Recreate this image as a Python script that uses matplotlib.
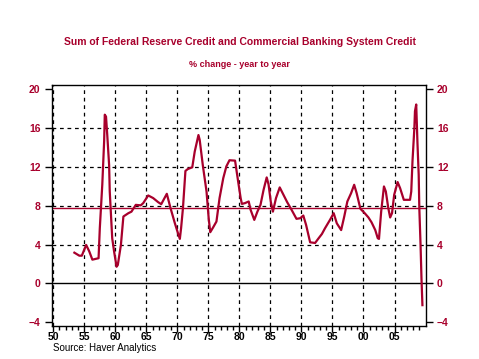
import numpy as np
import matplotlib.pyplot as plt

plt.rcParams['font.family'] = ['Liberation Sans', 'DejaVu Sans']

# readings: (decimal year, % change y/y)
years = [1953.4, 1954.2, 1954.6, 1955.3, 1955.8, 1956.3, 1957.3, 1957.5, 1957.9, 1958.2,
         1958.3, 1958.5, 1958.7, 1959.0, 1959.1, 1959.5, 1959.8, 1960.2, 1960.4, 1960.9,
         1961.3, 1962.1, 1962.6, 1963.3, 1964.1, 1964.5, 1965.3, 1966.1, 1966.9, 1967.4,
         1968.3, 1968.9, 1969.6, 1970.1, 1970.4, 1970.6, 1970.9, 1971.3, 1971.7, 1972.4,
         1972.8, 1973.4, 1973.6, 1974.1, 1974.7, 1975.05, 1975.3, 1975.75, 1976.3, 1976.8,
         1977.4, 1977.9, 1978.4, 1979.3, 1979.8, 1980.2, 1980.4, 1980.9, 1981.5, 1981.8,
         1982.4, 1982.9, 1983.4, 1983.9, 1984.4, 1984.7, 1985.05, 1985.4, 1985.9, 1986.5,
         1987.1, 1987.7, 1988.4, 1989.2, 1989.8, 1990.3, 1990.75, 1991.4, 1992.2, 1992.7,
         1993.3, 1993.8, 1994.6, 1995.2, 1995.7, 1996.4, 1996.9, 1997.4, 1998.0, 1998.5,
         1998.9, 1999.5, 2000.2, 2000.8, 2001.3, 2001.9, 2002.3, 2002.5, 2002.85, 2003.3,
         2003.6, 2004.0, 2004.3, 2004.6, 2004.95, 2005.5, 2005.9, 2006.5, 2007.5, 2007.7,
         2007.9, 2008.2, 2008.3, 2008.5, 2008.7, 2008.9, 2009.0, 2009.2, 2009.35, 2009.5]
values = [3.17, 2.86, 2.86, 3.97, 3.3, 2.45, 2.6, 5.7, 10.2, 14.7,
          17.4, 17.2, 15.3, 12.2, 9.5, 4.65, 3.3, 1.72, 1.9, 3.97,
          6.9, 7.24, 7.4, 8.1, 8.05, 8.28, 9.07, 8.8, 8.38, 8.17,
          9.24, 7.76, 6.2, 5.17, 4.59, 5.69, 7.76, 11.6, 11.8, 11.97,
          13.6, 15.3, 14.8, 12.2, 9.48, 6.7, 5.28, 5.76, 6.38, 8.8,
          10.86, 12.07, 12.7, 12.66, 10.5, 8.8, 8.2, 8.28, 8.45, 7.6,
          6.55, 7.4, 8.1, 9.66, 10.93, 10.2, 8.45, 7.4, 8.8, 9.9,
          9.14, 8.38, 7.6, 6.66, 6.72, 7.0, 6.03, 4.24, 4.17, 4.6,
          5.1, 5.69, 6.55, 7.24, 6.2, 5.5, 6.9, 8.45, 9.3, 10.17,
          9.3, 7.7, 7.24, 6.8, 6.3, 5.5, 4.66, 4.59, 7.4, 10.0,
          9.48, 7.76, 6.8, 7.24, 9.14, 10.45, 9.83, 8.62, 8.62, 9.48,
          12.6, 16.0, 17.76, 18.45, 14.5, 11.2, 7.76, 3.97, 0.5, -2.24]
mean_level = 7.75

red = '#A8002C'
dash = (0, (3, 3))

fig = plt.figure(figsize=(4.79, 3.59), dpi=100)
ax = fig.add_axes([0.108, 0.093, 0.781, 0.670])

ax.plot(years, values, color=red, lw=1.6, zorder=3)
ax.axhline(mean_level, color=red, lw=1.0, zorder=2)
ax.axhline(0, color='black', lw=1.0, zorder=2)

ax.set_xlim(1949.75, 2010.05)
ax.set_ylim(-4.35, 20.45)

xt = np.arange(1950, 2010, 5)
ax.set_xticks(xt)
ax.set_xticklabels(['%02d' % (y % 100) for y in xt])
ax.set_xticks(np.arange(1950, 2010, 1), minor=True)
yt = np.arange(-4, 21, 4)
ax.set_yticks(yt)

# dashed grid: every labelled year, and the inner y levels only
for x in xt:
    ax.axvline(x, color='black', ls=dash, lw=0.9, zorder=1)
for y in yt[2:-1]:
    ax.axhline(y, color='black', ls=dash, lw=0.9, zorder=1)

ax.tick_params(axis='x', which='major', length=4, width=1, labelsize=7.5, pad=0.5)
ax.tick_params(axis='x', which='minor', length=3, width=1)
ax.tick_params(axis='y', length=5, width=1, labelsize=7.5, labelcolor=red,
               right=True, labelright=True, pad=3)
for lab in ax.get_xticklabels() + ax.get_yticklabels():
    lab.set_fontweight('bold')
for s in ax.spines.values():
    s.set_linewidth(1.0)

fig.text(0.5, 0.883, 'Sum of Federal Reserve Credit and Commercial Banking System Credit',
         ha='center', va='center', fontsize=7.5, fontweight='bold', color=red)
fig.text(0.5, 0.819, '% change - year to year', ha='center', va='center',
         fontsize=6.5, fontweight='bold', color=red)
fig.text(0.111, 0.030, 'Source: Haver Analytics', ha='left', va='center', fontsize=7)

fig.savefig('out.png', dpi=100)
